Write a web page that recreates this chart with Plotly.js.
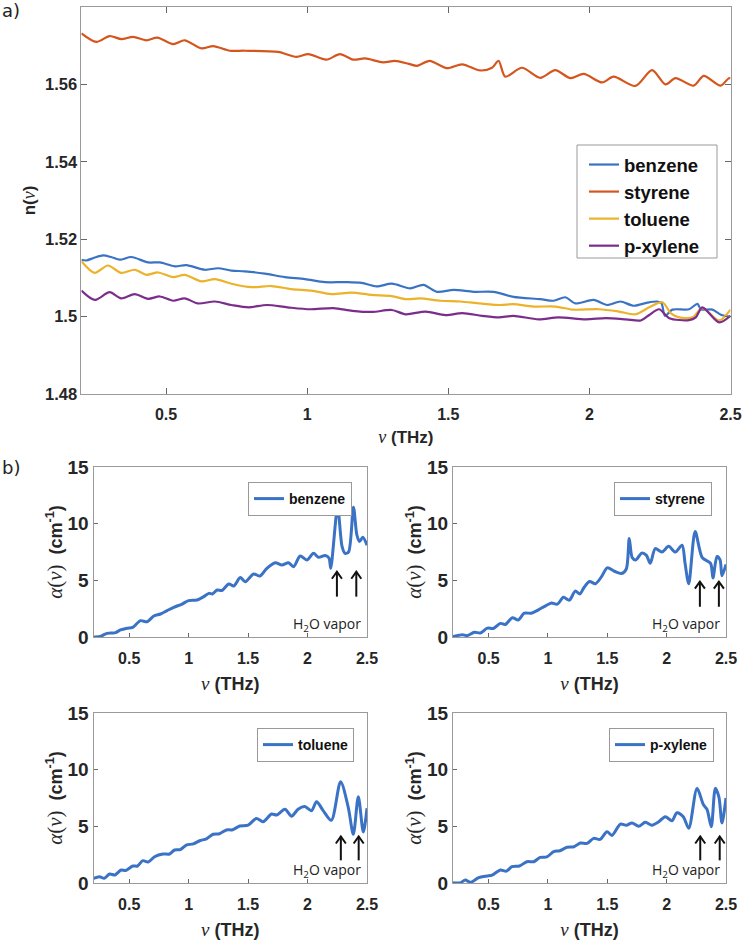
<!DOCTYPE html>
<html>
<head>
<meta charset="utf-8">
<script src="https://cdn.plot.ly/plotly-3.0.1.min.js"></script>
<style>html,body{margin:0;padding:0;background:#fff;}#chart{width:744px;height:940px;}</style>
</head>
<body>
<div id="chart"></div>
<script>
// ---------- Data: refractive index n(nu) ----------
const seriesNames = ['benzene', 'styrene', 'toluene', 'p-xylene'];

const nuBenzeneN = [0.20,0.217,0.245,0.277,0.305,0.336,0.377,0.436,0.478,0.531,0.572,0.637,0.684,0.732,0.779,0.85,0.921,0.992,1.063,1.134,1.193,1.246,1.30,1.365,1.412,1.46,1.519,1.59,1.66,1.731,1.826,1.873,1.915,1.95,2.015,2.063,2.11,2.157,2.205,2.24,2.255,2.268,2.294,2.353,2.383,2.395,2.436,2.466,2.5];
const nBenzene = [1.5147,1.5145,1.5152,1.5158,1.5154,1.5147,1.5154,1.5140,1.5140,1.5130,1.5133,1.5121,1.5125,1.5119,1.5117,1.5111,1.5102,1.5097,1.5089,1.5089,1.5087,1.5078,1.5085,1.5073,1.5082,1.5064,1.5069,1.5064,1.5064,1.5051,1.5045,1.5041,1.5050,1.5034,1.5043,1.5030,1.5039,1.5028,1.5036,1.5039,1.5035,1.5002,1.5018,1.5019,1.5033,1.5019,1.5018,1.5005,1.5000];

const nuStyreneN = [0.20,0.253,0.30,0.342,0.383,0.43,0.469,0.525,0.566,0.625,0.667,0.726,0.779,0.897,0.962,1.004,1.068,1.116,1.163,1.205,1.269,1.311,1.36,1.389,1.434,1.495,1.549,1.613,1.655,1.678,1.702,1.761,1.826,1.879,1.933,1.98,2.045,2.086,2.163,2.222,2.27,2.305,2.37,2.405,2.465,2.494,2.5];
const nStyrene = [1.5732,1.5710,1.5725,1.5717,1.5723,1.5714,1.5721,1.5704,1.5714,1.5693,1.5699,1.5687,1.5687,1.5684,1.5671,1.5678,1.5664,1.5678,1.5664,1.5667,1.5657,1.5661,1.5653,1.5648,1.5661,1.5642,1.5652,1.5636,1.5643,1.5661,1.5620,1.5643,1.5617,1.5637,1.5616,1.5627,1.5605,1.5620,1.5596,1.5637,1.5600,1.5616,1.5597,1.5622,1.5597,1.5616,1.5615];

const nuTolueneN = [0.20,0.247,0.294,0.341,0.389,0.43,0.472,0.525,0.566,0.625,0.673,0.732,0.803,0.873,0.944,1.015,1.086,1.157,1.228,1.299,1.352,1.40,1.472,1.543,1.613,1.684,1.73,1.802,1.88,1.94,2.034,2.105,2.164,2.212,2.259,2.288,2.318,2.365,2.40,2.46,2.5];
const nToluene = [1.5143,1.5113,1.5132,1.5113,1.5121,1.5108,1.5114,1.5102,1.5108,1.5091,1.5097,1.5085,1.5076,1.5079,1.5071,1.5067,1.5058,1.5062,1.5056,1.5053,1.5045,1.5047,1.5041,1.5039,1.5034,1.5030,1.5032,1.5026,1.5026,1.5018,1.5019,1.5013,1.5006,1.5024,1.5037,1.5009,1.4998,1.4998,1.5022,1.4990,1.5018];

const nuXyleneN = [0.20,0.247,0.30,0.341,0.389,0.436,0.478,0.525,0.566,0.613,0.673,0.732,0.792,0.857,0.93,1.01,1.093,1.16,1.23,1.30,1.349,1.42,1.49,1.55,1.62,1.68,1.73,1.82,1.89,1.987,2.058,2.129,2.182,2.212,2.247,2.283,2.353,2.377,2.40,2.46,2.5];
const nXylene = [1.5067,1.5043,1.5063,1.5047,1.5058,1.5046,1.5052,1.5041,1.5047,1.5034,1.5039,1.5030,1.5024,1.5030,1.5024,1.5019,1.5022,1.5015,1.5012,1.5017,1.5006,1.5013,1.5004,1.5009,1.5002,1.4998,1.5002,1.4993,1.4998,1.4993,1.4996,1.4993,1.4990,1.5004,1.5019,1.4996,1.4991,1.4998,1.5024,1.4985,1.5002];

// ---------- Data: absorption alpha(nu) ----------
const nuBenzeneA = [0.20,0.216,0.258,0.314,0.36,0.385,0.427,0.483,0.53,0.595,0.651,0.707,0.763,0.819,0.875,0.945,1.0,1.07,1.127,1.17,1.2,1.24,1.28,1.338,1.38,1.434,1.476,1.546,1.60,1.658,1.728,1.784,1.84,1.882,1.938,1.994,2.05,2.092,2.148,2.18,2.195,2.253,2.29,2.316,2.345,2.386,2.415,2.437,2.465,2.5];
const aBenzene = [0.0,0.0,0.06,0.32,0.35,0.38,0.62,0.77,0.85,1.44,1.35,1.85,2.03,2.33,2.62,2.91,3.21,3.26,3.56,3.85,3.8,4.15,4.1,4.68,4.5,5.24,4.88,5.56,5.38,6.06,6.56,6.35,6.56,6.2,7.15,6.8,7.38,7.03,7.2,6.97,6.06,11.45,8.0,7.38,7.5,11.45,9.0,8.42,8.8,8.1];

const nuStyreneA = [0.20,0.25,0.28,0.32,0.38,0.43,0.49,0.54,0.60,0.64,0.70,0.75,0.80,0.86,0.92,0.98,1.03,1.08,1.13,1.18,1.23,1.27,1.30,1.35,1.40,1.45,1.50,1.56,1.62,1.66,1.685,1.71,1.74,1.79,1.83,1.862,1.904,1.96,2.017,2.073,2.13,2.155,2.186,2.24,2.30,2.37,2.39,2.424,2.45,2.466,2.5];
const aStyrene = [0.05,0.15,0.2,0.12,0.42,0.35,0.78,0.75,1.2,1.1,1.7,1.5,2.1,2.1,2.4,2.75,3.0,2.9,3.5,3.25,4.05,3.8,4.3,4.9,4.7,5.3,6.1,5.8,5.6,6.0,8.7,7.0,6.8,7.4,7.2,6.5,7.8,7.5,8.0,7.5,8.1,6.5,4.7,9.3,7.0,6.5,5.2,7.1,6.8,5.4,6.4];

const nuTolueneA = [0.20,0.25,0.29,0.335,0.38,0.433,0.47,0.531,0.57,0.615,0.66,0.714,0.784,0.84,0.882,0.93,0.98,1.04,1.093,1.15,1.205,1.26,1.318,1.37,1.43,1.5,1.57,1.626,1.697,1.74,1.81,1.866,1.92,1.977,2.033,2.076,2.13,2.20,2.278,2.342,2.385,2.427,2.469,2.5];
const aToluene = [0.41,0.56,0.41,0.79,0.71,1.15,1.1,1.5,1.5,1.97,1.85,2.32,2.56,2.56,2.91,2.95,3.35,3.45,3.73,3.9,4.3,4.35,4.68,4.7,5.03,5.1,5.7,5.41,6.09,6.0,6.5,5.9,6.5,6.74,6.38,7.18,6.41,5.53,8.94,6.7,4.3,7.62,4.5,6.6];

const nuXyleneA = [0.20,0.23,0.26,0.304,0.34,0.36,0.416,0.486,0.53,0.599,0.65,0.697,0.76,0.823,0.88,0.935,0.99,1.048,1.10,1.16,1.22,1.273,1.33,1.385,1.44,1.497,1.54,1.61,1.66,1.708,1.764,1.82,1.876,1.933,1.988,2.045,2.087,2.14,2.186,2.256,2.31,2.34,2.376,2.41,2.44,2.466,2.5];
const aXylene = [0.03,0.0,0.0,0.26,0.08,0.1,0.47,0.62,0.7,1.15,1.05,1.44,1.5,1.88,1.88,2.26,2.3,2.76,2.85,3.15,3.2,3.53,3.5,3.94,3.85,4.53,4.2,5.2,5.1,5.3,5.0,5.35,5.1,5.4,5.85,5.5,6.2,5.85,4.83,8.35,6.9,6.5,4.97,8.35,7.6,5.3,7.5];

// H2O vapour line markers (nu positions, arrow tail/head alpha)
const h2oBenzene = [2.247, 2.41];
const h2oStyrene = [2.28, 2.44];
const h2oToluene = [2.28, 2.43];
const h2oXylene  = [2.283, 2.447];
const arrowSpanTop = [3.56, 5.76];
const arrowSpanStyrene = [2.67, 4.88];
const arrowSpanBottom = [2.0, 4.1];

// ---------- Tick labels ----------
const xTickVals = [0.5, 1, 1.5, 2, 2.5];
const xTickText = ['0.5', '1', '1.5', '2', '2.5'];
const nTickVals = [1.48, 1.50, 1.52, 1.54, 1.56, 1.58];
const nTickText = ['1.48', '1.5', '1.52', '1.54', '1.56', '1.58'];
const aTickVals = [0, 5, 10, 15];
const aTickText = ['0', '5', '10', '15'];

// ---------- Styling ----------
const colors = ['#3a73c4', '#d4561e', '#ebb22a', '#7b2d8c'];
const panelBlue = '#3a72c6';
const SANS = 'Liberation Sans, Arial, sans-serif';
const serifSpan = (px, ital) => 'font-family:Liberation Serif,DejaVu Serif,serif;font-weight:normal;font-size:' + px + 'px' + (ital ? ';font-style:italic' : '');
const axisLine = '#9a9a9a';

const nuTitle = (px) => '<span style="' + serifSpan(px + 1, true) + '">ν</span> (THz)';
const nTitle = 'n(<span style="' + serifSpan(18, true) + '">ν</span>)';
const aTitle = '<span style="' + serifSpan(21, true) + '">α</span><span style="' + serifSpan(21, false) + '">(</span><span style="' + serifSpan(21, true) + '">ν</span><span style="' + serifSpan(21, false) + '">)</span>\u00a0\u00a0(cm<sup>-1</sup>)';

function baseAxis(extra) {
  return Object.assign({
    showline: true, linecolor: axisLine, linewidth: 1,
    ticks: 'inside', tickcolor: '#666', ticklen: 5, tickwidth: 1,
    showgrid: false, zeroline: false, fixedrange: true
  }, extra);
}

const traces = [];
const nX = [nuBenzeneN, nuStyreneN, nuTolueneN, nuXyleneN];
const nY = [nBenzene, nStyrene, nToluene, nXylene];
for (let i = 0; i < 4; i++) {
  traces.push({
    x: nX[i], y: nY[i], type: 'scatter', mode: 'lines', name: seriesNames[i],
    line: {color: colors[i], width: 2.2, shape: 'spline', smoothing: 0.8},
    xaxis: 'x', yaxis: 'y', legend: 'legend'
  });
}
const aX = [nuBenzeneA, nuStyreneA, nuTolueneA, nuXyleneA];
const aY = [aBenzene, aStyrene, aToluene, aXylene];
const panelAxes = [['x2','y2'], ['x3','y3'], ['x4','y4'], ['x5','y5']];
const panelLegends = ['legend2', 'legend3', 'legend4', 'legend5'];
for (let i = 0; i < 4; i++) {
  traces.push({
    x: aX[i], y: aY[i], type: 'scatter', mode: 'lines', name: seriesNames[i],
    line: {color: panelBlue, width: 3, shape: 'spline', smoothing: 0.8},
    xaxis: panelAxes[i][0], yaxis: panelAxes[i][1], legend: panelLegends[i]
  });
}

// domains (paper fractions)
const W = 744, H = 940;
const dx = (a, b) => [a / W, b / W];
const dy = (top, bot) => [1 - bot / H, 1 - top / H];

const layout = {
  width: W, height: H,
  margin: {l: 0, r: 0, t: 0, b: 0},
  paper_bgcolor: '#fff', plot_bgcolor: '#fff',
  font: {family: SANS, color: '#262626'},
  xaxis: baseAxis({domain: dx(81.4, 730.5), anchor: 'y', range: [0.2, 2.5], mirror: 'ticks', ticklen: 6,
    tickvals: xTickVals, ticktext: xTickText, ticklabelstandoff: 6,
    tickfont: {family: SANS, size: 16, weight: 'bold', color: '#262626'},
    title: {text: nuTitle(17), font: {family: SANS, size: 17, weight: 'bold', color: '#262626'}, standoff: 8}}),
  yaxis: baseAxis({domain: dy(7, 394), anchor: 'x', range: [1.48, 1.58], mirror: 'ticks', ticklen: 6,
    tickvals: nTickVals, ticktext: nTickText,
    tickfont: {family: SANS, size: 16.5, weight: 'bold', color: '#262626'},
    title: {text: nTitle, font: {family: SANS, size: 17, weight: 'bold', color: '#262626'}, standoff: 5}}),
  legend: {x: 584 / W, y: 1 - 146 / H, xanchor: 'left', yanchor: 'top',
    bgcolor: 'rgba(0,0,0,0)', borderwidth: 0,
    font: {family: SANS, size: 18.5, weight: 'bold', color: '#111'}, itemwidth: 30},
  annotations: [],
  shapes: [
    // frame behind the top legend
    {type: 'rect', xref: 'paper', yref: 'paper', x0: 577 / W, x1: 717 / W, y0: 1 - 258 / H, y1: 1 - 145 / H,
      fillcolor: '#fff', line: {color: '#999', width: 1}, layer: 'above'}
  ],
  showlegend: true
};

const panelDomains = [
  [dx(93.5, 367), dy(467, 637)],
  [dx(453, 726), dy(467, 637)],
  [dx(93.5, 367), dy(713, 883)],
  [dx(453, 726), dy(713, 883)]
];
const legendPos = [[248, 482], [614, 482], [257, 728], [609, 728]];
for (let i = 0; i < 4; i++) {
  const xn = 'xaxis' + (i + 2), yn = 'yaxis' + (i + 2);
  layout[xn] = baseAxis({domain: panelDomains[i][0], anchor: 'y' + (i + 2), range: [0.2, 2.5], mirror: true,
    tickvals: xTickVals, ticktext: xTickText, ticklen: 4, ticklabelstandoff: 7,
    tickfont: {family: SANS, size: 16, weight: 'bold', color: '#262626'},
    title: {text: nuTitle(18), font: {family: SANS, size: 18, weight: 'bold', color: '#262626'}, standoff: 11}});
  layout[yn] = baseAxis({domain: panelDomains[i][1], anchor: 'x' + (i + 2), range: [0, 15], mirror: true,
    tickvals: aTickVals, ticktext: aTickText, ticklen: 4,
    tickfont: {family: SANS, size: 19, weight: 'bold', color: '#262626'},
    title: {text: aTitle, font: {family: SANS, size: 18, weight: 'bold', color: '#262626'}, standoff: 0}});
  layout[panelLegends[i]] = {x: legendPos[i][0] / W, y: 1 - legendPos[i][1] / H, xanchor: 'left', yanchor: 'top',
    bgcolor: '#fff', bordercolor: '#999', borderwidth: 1, itemwidth: 30,
    font: {family: SANS, size: 14, weight: 'bold', color: '#111'}};
}

// panel labels
layout.annotations.push({text: 'a)', xref: 'paper', yref: 'paper', x: 0, y: 1 - 11 / H,
  xanchor: 'left', yanchor: 'middle', showarrow: false, font: {family: 'DejaVu Sans', size: 18, color: '#222'}});
layout.annotations.push({text: 'b)', xref: 'paper', yref: 'paper', x: 0, y: 1 - 467 / H,
  xanchor: 'left', yanchor: 'middle', showarrow: false, font: {family: 'DejaVu Sans', size: 18, color: '#222'}});

// H2O arrows (drawn as shapes) + labels
const pxPerNu = 273 / 2.3, pxPerA = 170 / 15;
const headHalfW = 5 / pxPerNu, headH = 7 / pxPerA;
const h2oSets = [h2oBenzene, h2oStyrene, h2oToluene, h2oXylene];
const spans = [arrowSpanTop, arrowSpanStyrene, arrowSpanBottom, arrowSpanBottom];
for (let i = 0; i < 4; i++) {
  const xr = 'x' + (i + 2), yr = 'y' + (i + 2);
  h2oSets[i].forEach(nu => {
    const a0 = spans[i][0], a1 = spans[i][1];
    layout.shapes.push({type: 'line', xref: xr, yref: yr, x0: nu, x1: nu, y0: a0, y1: a1,
      line: {color: '#111', width: 2}});
    layout.shapes.push({type: 'path', xref: xr, yref: yr,
      path: 'M' + (nu - headHalfW) + ',' + (a1 - headH) + ' L' + nu + ',' + a1 + ' L' + (nu + headHalfW) + ',' + (a1 - headH),
      line: {color: '#111', width: 2}});
  });
  layout.annotations.push({xref: xr, yref: yr, x: 2.465, y: 1.1, xanchor: 'right', yanchor: 'middle',
    text: 'H<sub>2</sub>O vapor', showarrow: false,
    font: {family: 'Open Sans, DejaVu Sans', size: 14, color: '#222'}});
}

Plotly.newPlot('chart', traces, layout, {staticPlot: true, displayModeBar: false});
</script>
</body>
</html>
